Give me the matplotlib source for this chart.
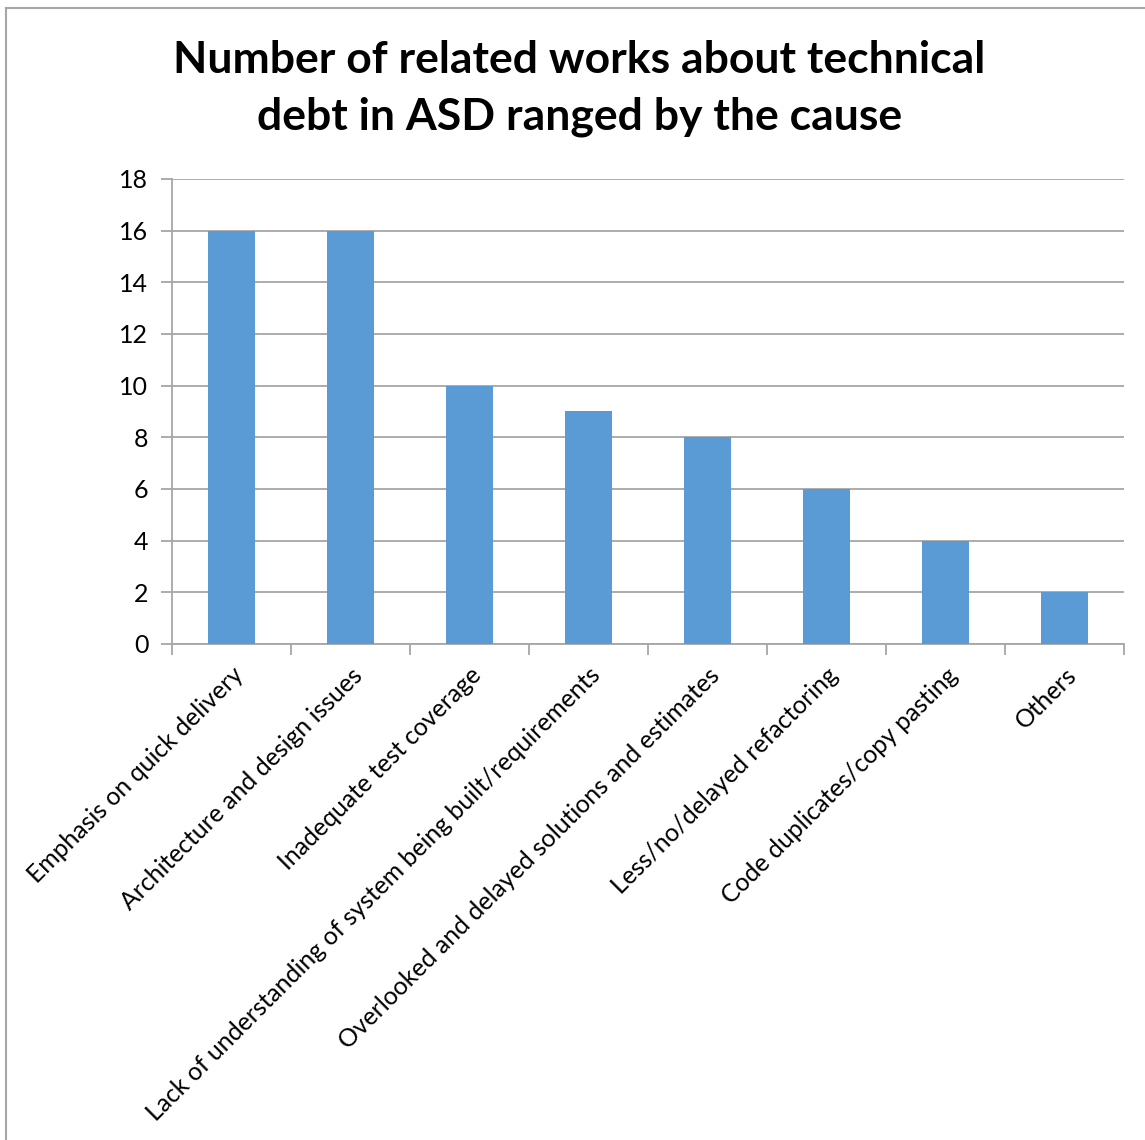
import matplotlib.pyplot as plt
import numpy as np

# datos
causas = ["Emphasis on quick delivery",
          "Architecture and design issues",
          "Inadequate test coverage",
          "Lack of understanding of system being built/requirements",
          "Overlooked and delayed solutions and estimates",
          "Less/no/delayed refactoring",
          "Code duplicates/copy pasting",
          "Others"]
trabajos = [16, 16, 10, 9, 8, 6, 4, 2]
yticks = [0, 2, 4, 6, 8, 10, 12, 14, 16, 18]

plt.rcParams['font.family'] = ['Lato', 'DejaVu Sans']
gris = '#a6a6a6'

fig = plt.figure(figsize=(11.45, 11.4), dpi=100)
ax = fig.add_axes([0.1502, 0.4351, 0.8315, 0.4079])

x = np.arange(len(causas))
ax.bar(x, trabajos, width=0.40, color='#5b9bd5', zorder=3)

ax.set_xlim(-0.5, len(causas) - 0.5)
ax.set_ylim(0, 18)
ax.set_yticks(yticks)
ax.set_yticklabels([str(v) for v in yticks], fontsize=18)
ax.yaxis.grid(True, color=gris, linewidth=1.3, zorder=0)

# ticks de categoria en los bordes
ax.set_xticks(np.arange(len(causas) + 1) - 0.5, minor=False)
ax.set_xticklabels([])
ax.set_xticks(x, minor=True)
ax.set_xticklabels(causas, minor=True, rotation=45, ha='right',
                   rotation_mode='anchor', fontsize=17.8)
ax.tick_params(axis='x', which='minor', length=0, pad=14)
ax.tick_params(axis='x', which='major', length=8, color=gris, width=1.3)
ax.tick_params(axis='y', length=8, color=gris, width=1.3, pad=9)

for s in ['top', 'right']:
    ax.spines[s].set_visible(False)
for s in ['left', 'bottom']:
    ax.spines[s].set_color(gris)
    ax.spines[s].set_linewidth(1.3)

fig.text(0.506, 0.922, "Number of related works about technical\ndebt in ASD ranged by the cause",
         ha='center', va='center', fontsize=32, fontweight='bold', linespacing=1.5)

# marco
fig.add_artist(plt.Line2D([6/1145, 6/1145], [0, 1 - 8/1140], color=gris, linewidth=1.5))
fig.add_artist(plt.Line2D([6/1145, 1], [1 - 8/1140, 1 - 8/1140], color=gris, linewidth=1.5))

fig.savefig("out.png", dpi=100)
